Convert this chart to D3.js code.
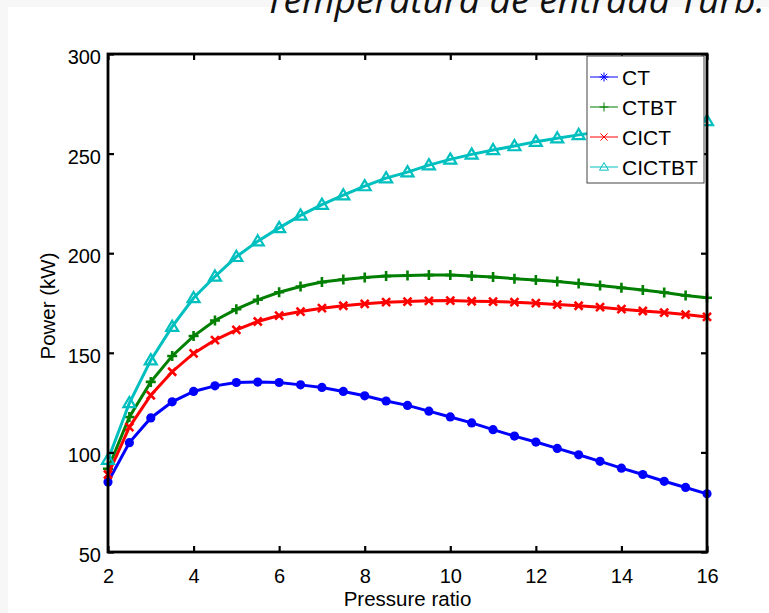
<!DOCTYPE html>
<html>
<head>
<meta charset="utf-8">
<script src="https://cdn.jsdelivr.net/npm/d3@7"></script>
<style>
	body { margin: 0; background: #f7f7f7; }
	svg { display: block; }
</style>
</head>
<body>
<script>
/******************/
/*     data       */
/******************/
// pressure ratio 2:0.5:16
var pressure = [2, 2.5, 3, 3.5, 4, 4.5, 5, 5.5, 6, 6.5, 7, 7.5, 8, 8.5, 9, 9.5, 10,
	10.5, 11, 11.5, 12, 12.5, 13, 13.5, 14, 14.5, 15, 15.5, 16];
var ct = [85.1, 104.9, 117.3, 125.4, 130.6, 133.4, 135.1, 135.3, 135.1, 133.9, 132.6,
	130.6, 128.4, 125.8, 123.6, 120.7, 117.8, 114.8, 111.4, 108.2, 105.2, 102.0, 98.8,
	95.5, 92.1, 88.9, 85.5, 82.4, 79.2];
var ctbt = [91.8, 117.8, 135.4, 148.4, 158.4, 166.2, 171.9, 176.6, 180.4, 183.3, 185.5,
	186.8, 187.8, 188.5, 188.8, 189.0, 189.0, 188.5, 188.0, 187.2, 186.5, 185.8, 184.8,
	183.8, 182.6, 181.5, 180.3, 178.8, 177.6];
var cict = [88.9, 112.7, 128.7, 140.5, 149.7, 156.4, 161.5, 165.7, 168.7, 170.7, 172.4,
	173.6, 174.6, 175.4, 175.7, 176.1, 176.2, 175.9, 175.7, 175.4, 174.9, 174.2, 173.6,
	172.9, 171.9, 171.0, 170.2, 169.2, 168.0];
// the last points are hidden under the legend, estimated
var cictbt = [96.3, 124.8, 146.3, 163.1, 177.5, 188.3, 198.2, 206.0, 212.7, 219.0, 224.4,
	229.1, 233.7, 237.7, 240.7, 244.2, 247.1, 249.6, 251.8, 253.8, 256.0, 257.7, 259.4,
	261.0, 262.4, 263.6, 264.7, 265.6, 266.4];
var names = ["CT", "CTBT", "CICT", "CICTBT"];
var xTicks = [2, 4, 6, 8, 10, 12, 14, 16];
var yTicks = [50, 100, 150, 200, 250, 300];
var title = "Temperatura de entrada Turb.";

/******************/
/*   d3 init var  */
/******************/
var W = 769, H = 613;
var margin = {top: 54, right: 62, bottom: 61, left: 108},
	width = W - margin.left - margin.right,
	height = H - margin.top - margin.bottom;
var font = "'Liberation Sans', Arial, sans-serif";

var x = d3.scaleLinear().domain([2, 16]).range([0, width]);
var y = d3.scaleLinear().domain([50, 300]).range([height, 0]);

var colors = ["#0000ff", "#007f00", "#ff0000", "#00bfbf"];
var series = [ct, ctbt, cict, cictbt].map(function(v, k) {
	return {name: names[k], color: colors[k], values: v.map(function(d, i) {
		return {x: pressure[i], y: d};
	})};
});

var svg = d3.select("body").append("svg")
	.attr("width", W)
	.attr("height", H);
// white figure area, light strip on top and left
svg.append("rect").attr("x", 8).attr("y", 7).attr("width", W).attr("height", H).attr("fill", "#fff");

// title, cut by the top of the picture
var t = svg.append("text")
	.attr("x", 265).attr("y", 13)
	.attr("font-family", "'Open Sans', sans-serif")
	.attr("font-style", "italic")
	.attr("font-size", 30)
	.attr("fill", "#111")
	.text(title);
var tw = t.node().getComputedTextLength();
t.attr("font-size", 30 * 500 / tw);

var g = svg.append("g").attr("transform", "translate(" + margin.left + "," + margin.top + ")");

/******************/
/*    d3 draw     */
/******************/
var line = d3.line().x(function(d) { return x(d.x); }).y(function(d) { return y(d.y); });

series.forEach(function(s, k) {
	g.append("path")
		.datum(s.values)
		.attr("fill", "none")
		.attr("stroke", s.color)
		.attr("stroke-width", 3)
		.attr("d", line);
	var m = g.append("g").selectAll("g")
		.data(s.values)
		.enter()
		.append("g")
		.attr("transform", function(d) { return "translate(" + x(d.x) + "," + y(d.y) + ")"; });
	drawMarker(m, k, false);
});

function drawMarker(sel, k, small) {
	var c = colors[k];
	var sw = small ? 1 : 2.6;
	var r = small ? 4.5 : 5;
	if (k === 0) {
		if (small) {
			// asterisk in the legend
			sel.append("path").attr("d", "M" + -r + ",0H" + r + "M0," + -r + "V" + r +
				"M" + -r * 0.7 + "," + -r * 0.7 + "L" + r * 0.7 + "," + r * 0.7 +
				"M" + -r * 0.7 + "," + r * 0.7 + "L" + r * 0.7 + "," + -r * 0.7)
				.attr("stroke", c).attr("stroke-width", sw).attr("fill", "none");
		} else {
			sel.append("circle").attr("r", 4.6).attr("fill", c);
		}
	} else if (k === 1) {
		sel.append("path").attr("d", "M" + -r + ",0H" + r + "M0," + -r + "V" + r)
			.attr("stroke", c).attr("stroke-width", sw).attr("fill", "none");
	} else if (k === 2) {
		var a = r * 0.8;
		sel.append("path").attr("d", "M" + -a + "," + -a + "L" + a + "," + a + "M" + -a + "," + a + "L" + a + "," + -a)
			.attr("stroke", c).attr("stroke-width", sw).attr("fill", "none");
	} else {
		var h = small ? 4.5 : 6;
		sel.append("path").attr("d", "M0," + -h + "L" + h + "," + h * 0.7 + "L" + -h + "," + h * 0.7 + "Z")
			.attr("stroke", c).attr("stroke-width", small ? 1 : 2.2).attr("fill", "none");
	}
}

/******************/
/*     axes       */
/******************/
var xAxis = g.append("g")
	.attr("transform", "translate(0," + height + ")")
	.call(d3.axisBottom(x).tickValues(xTicks).tickSize(-6).tickPadding(17).tickSizeOuter(0));
var yAxis = g.append("g")
	.call(d3.axisLeft(y).tickValues(yTicks).tickSize(-6).tickPadding(7).tickSizeOuter(0));
g.append("g")
	.call(d3.axisTop(x).tickValues(xTicks).tickSize(-6).tickFormat("").tickSizeOuter(0));
g.append("g")
	.attr("transform", "translate(" + width + ",0)")
	.call(d3.axisRight(y).tickValues(yTicks).tickSize(-6).tickFormat("").tickSizeOuter(0));

g.selectAll(".tick line").attr("stroke", "#000").attr("stroke-width", 2.2);
g.selectAll(".domain").remove();
g.selectAll(".tick text")
	.attr("font-family", font)
	.attr("font-size", 20)
	.attr("fill", "#000");
yAxis.selectAll(".tick text").attr("dy", "0.47em");

// box
g.append("rect")
	.attr("width", width).attr("height", height)
	.attr("fill", "none")
	.attr("stroke", "#000")
	.attr("stroke-width", 2.8);

// axis labels
g.append("text")
	.attr("x", width / 2).attr("y", height + 54)
	.attr("text-anchor", "middle")
	.attr("font-family", font).attr("font-size", 20.5)
	.text("Pressure ratio");
g.append("text")
	.attr("transform", "translate(" + -53 + "," + (height / 2 + 3) + ") rotate(-90)")
	.attr("text-anchor", "middle")
	.attr("font-family", font).attr("font-size", 20.5)
	.text("Power (kW)");

/******************/
/*    legend      */
/******************/
var lg = g.append("g").attr("transform", "translate(" + (587 - margin.left) + "," + (56 - margin.top) + ")");
lg.append("rect")
	.attr("width", 117).attr("height", 127)
	.attr("fill", "#fff")
	.attr("stroke", "#444")
	.attr("stroke-width", 1);
names.forEach(function(n, k) {
	var row = lg.append("g").attr("transform", "translate(0," + (21 + k * 30) + ")");
	row.append("line").attr("x1", 3).attr("x2", 31)
		.attr("stroke", colors[k]).attr("stroke-width", 1);
	drawMarker(row.append("g").attr("transform", "translate(17,0)"), k, true);
	row.append("text")
		.attr("x", 35).attr("dy", "0.36em")
		.attr("font-family", font).attr("font-size", 21)
		.text(n);
});
</script>
</body>
</html>
